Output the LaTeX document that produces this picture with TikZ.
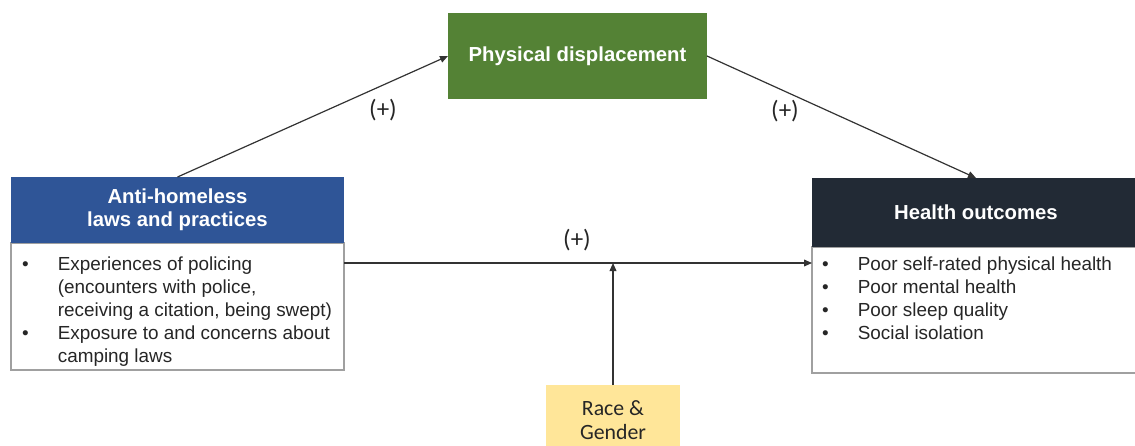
\documentclass[tikz,border=0pt]{standalone}
\usepackage{fontspec}
\setmainfont{Liberation Sans}
\newfontfamily\calib{Carlito}
\usetikzlibrary{positioning,arrows.meta}
\usepackage{xcolor}
\definecolor{dispgreen}{HTML}{548235}
\definecolor{lawblue}{HTML}{2F5597}
\definecolor{healthnavy}{HTML}{222A35}
\definecolor{raceyellow}{HTML}{FFE699}
\definecolor{rimgray}{HTML}{A0A0A0}

\begin{document}
\begin{tikzpicture}[
  x=0.5pt,y=-0.5pt,
  head/.style={rectangle,outer sep=0pt,inner sep=0pt,text=white,align=center,
               font=\fontsize{10.15pt}{11.5pt}\selectfont\bfseries},
  body/.style={rectangle,draw=rimgray,line width=0.8pt,fill=white,outer sep=0pt,inner sep=0pt},
  list/.style={inner sep=0pt,text=black!85,font=\fontsize{9.45pt}{11.5pt}\selectfont},
  sign/.style={inner sep=0pt,text=black!85,font=\calib\fontsize{12.5pt}{14pt}\selectfont},
  moder/.style={rectangle,fill=raceyellow,outer sep=0pt,inner sep=0pt,align=center,
                text=black!85,font=\calib\fontsize{10.9pt}{12pt}\selectfont},
  link/.style={draw=black!80,line width=0.6pt,-{Triangle[length=4pt,width=3.4pt]}},
]
\useasboundingbox (0,0) rectangle (1135,445);
% mediator on top
\node[head,fill=dispgreen,minimum width=129.5pt,minimum height=43pt] (disp) at (577.5,56) {Physical displacement};
% exposure box (left)
\node[body,minimum width=166.5pt,minimum height=63.5pt] (lawbody) at (177.5,306.5) {};
\node[head,fill=lawblue,minimum width=166.5pt,minimum height=33pt,above=0pt of lawbody] (lawhead) {Anti-homeless\\laws and practices};
\node[list,anchor=base west] (lawlist) at ([xshift=5.4pt,yshift=-13.5pt]lawbody.north west)
  {\begin{tabular}[t]{@{}p{17.8pt}@{}l@{}}
   \textbullet & Experiences of policing\\
               & (encounters with police,\\
               & receiving a citation, being swept)\\
   \textbullet & Exposure to and concerns about\\
               & camping laws
   \end{tabular}};
% outcome box (right)
\node[body,minimum width=164pt,minimum height=63pt] (healthbody) at (976,310) {};
\node[head,fill=healthnavy,minimum width=164pt,minimum height=34.5pt,above=0pt of healthbody] (healthhead) {Health outcomes};
\node[list,anchor=base west] (healthlist) at ([xshift=4.9pt,yshift=-11.5pt]healthbody.north west)
  {\begin{tabular}[t]{@{}p{17.8pt}@{}l@{}}
   \textbullet & Poor self-rated physical health\\
   \textbullet & Poor mental health\\
   \textbullet & Poor sleep quality\\
   \textbullet & Social isolation
   \end{tabular}};
% moderator
\node[moder,minimum width=67pt,minimum height=35pt] (race) at (613,420) {Race \&\\Gender};
% paths
\draw[link] (lawhead.north) -- (disp.west);
\draw[link] (disp.east) -- (healthhead.north);
\coordinate (tap) at ([yshift=-10pt]lawbody.north east);
\draw[link] (tap) -- (tap -| healthbody.west);
\coordinate (meet) at (race.north |- tap);
\draw[link] (race.north) -- (meet);
% signs
\node[sign] (plusa) at (383,110) {(+)};
\node[sign] (plusb) at (785,111) {(+)};
\node[sign] (plusc) at (577,240) {(+)};
\end{tikzpicture}
\end{document}
